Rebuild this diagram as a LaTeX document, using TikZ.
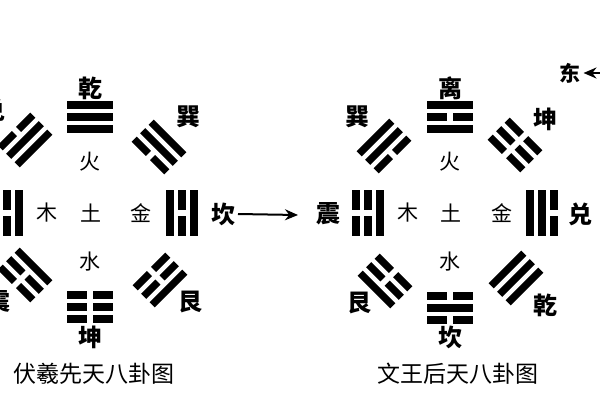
\documentclass[tikz,border=0pt]{standalone}
\usepackage{fontspec}
\newfontfamily\cjk{Noto Sans CJK SC}
\usepackage{tikz}
\usetikzlibrary{arrows.meta}

% one trigram: centre, turn, lines from inner (bottom) to outer (top)
\newcommand{\gua}[3]{%
  \begin{scope}[shift={#1},rotate=#2]
    \foreach \yao [count=\i] in {#3} {
      \pgfmathsetmacro{\ypos}{24-12*\i}
      \ifnum\yao=1
        \fill (-23,\ypos-3.6) rectangle (23,\ypos+3.6);
      \else
        \fill (-23,\ypos-3.6) rectangle (-3,\ypos+3.6);
        \fill (3,\ypos-3.6) rectangle (23,\ypos+3.6);
      \fi
    }
  \end{scope}}

\begin{document}
\begin{tikzpicture}[x=1pt,y=-1pt,>={Stealth[length=13pt,width=11pt]},
                    line width=2pt]
  \tikzstyle{gua name}=[font=\cjk\bfseries\fontsize{24}{24}\selectfont,inner sep=2pt]
  \tikzstyle{wuxing}=[font=\cjk\fontsize{21}{21}\selectfont,inner sep=1pt]
  \tikzstyle{chart title}=[font=\cjk\fontsize{23}{23}\selectfont]

  \fill[white] (0,0) rectangle (600,400);
  \useasboundingbox (0,0) rectangle (600,400);

  % Fuxi
  \gua{(90,117)}{0}{1,1,1}
  \gua{(159,147)}{-45}{0,1,1}
  \gua{(182,213)}{-90}{1,0,1}
  \gua{(160,280)}{-135}{0,0,1}
  \gua{(90,307)}{180}{0,0,0}
  \gua{(25,275)}{135}{1,0,0}
  \gua{(7,213)}{90}{1,0,1}
  \gua{(25,140)}{45}{1,1,0}

  \node[gua name] (qian1) at (90,88)   {乾};
  \node[gua name] (xun1)  at (188,117) {巽};
  \node[gua name] (kan1)  at (223,214) {坎};
  \node[gua name] (gen1)  at (190,302) {艮};
  \node[gua name] (kun1)  at (90,337)  {坤};
  \node[gua name] (zhen1) at (-1,302)  {震};
  \node[gua name] (dui1)  at (-6,110)  {兑};

  \node[wuxing] (huo1)  at (90,162)  {火};
  \node[wuxing] (mu1)   at (47,213)  {木};
  \node[wuxing] (tu1)   at (91,213)  {土};
  \node[wuxing] (jin1)  at (141,213) {金};
  \node[wuxing] (shui1) at (90,262)  {水};

  \node[chart title] (fuxi) at (94,374) {伏羲先天八卦图};

  \coordinate (tip) at (298,215);
  \draw[->] (kan1.east) -- (tip);

  % Wenwang
  \gua{(450,117)}{0}{1,0,1}
  \gua{(384,146)}{45}{0,1,1}
  \gua{(515,145)}{-45}{0,0,0}
  \gua{(368,213)}{90}{1,0,0}
  \gua{(542,213)}{-90}{1,1,0}
  \gua{(385,281)}{135}{0,0,1}
  \gua{(516,278)}{-135}{1,1,1}
  \gua{(450,308)}{180}{0,1,0}

  \node[gua name] (li2)   at (450,88)  {离};
  \node[gua name] (xun2)  at (357,117) {巽};
  \node[gua name] (kun2)  at (545,119) {坤};
  \node[gua name] (zhen2) at (328,214) {震};
  \node[gua name] (dui2)  at (580,214) {兑};
  \node[gua name] (gen2)  at (359,303) {艮};
  \node[gua name] (qian2) at (545,305) {乾};
  \node[gua name] (kan2)  at (450,337) {坎};

  \node[wuxing] (huo2)  at (450,162) {火};
  \node[wuxing] (mu2)   at (408,213) {木};
  \node[wuxing] (tu2)   at (451,213) {土};
  \node[wuxing] (jin2)  at (502,213) {金};
  \node[wuxing] (shui2) at (450,262) {水};

  \node[chart title] (wenwang) at (458,374) {文王后天八卦图};

  \node[gua name,font=\cjk\bfseries\fontsize{21}{21}\selectfont] (dong) at (570,73) {东};
  \coordinate (east) at (612,73);
  \draw[->] (east) -- (dong.east);
\end{tikzpicture}
\end{document}
